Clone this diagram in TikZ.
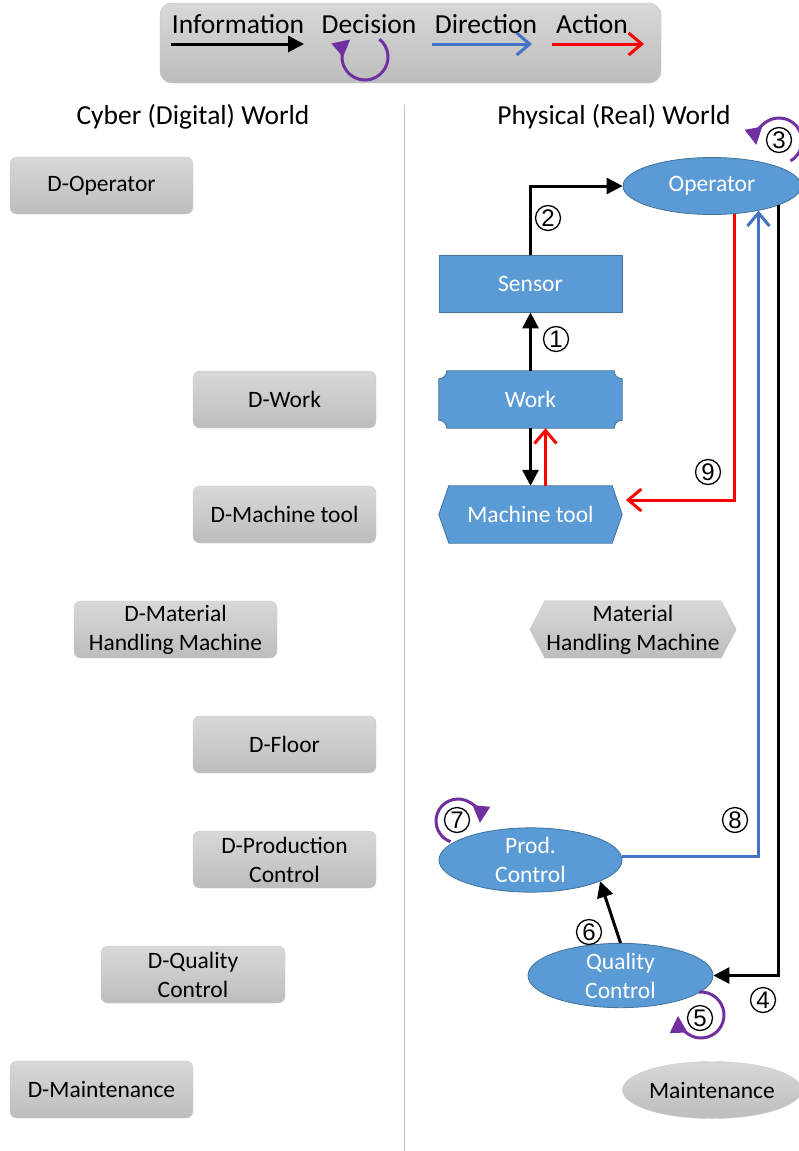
\documentclass[tikz,border=0pt]{standalone}
\usepackage{fontspec}
\setmainfont{Carlito}
\newfontfamily\digfont{Liberation Sans}
\usetikzlibrary{arrows.meta,shapes.geometric,calc}
\definecolor{nblue}{HTML}{5B9BD5}
\definecolor{nborder}{HTML}{41719C}
\definecolor{dblue}{HTML}{4472C4}
\definecolor{purp}{HTML}{7030A0}
\definecolor{gtop}{HTML}{D8D8D8}
\definecolor{gbot}{HTML}{BDBDBD}
\definecolor{gborder}{HTML}{C8C8C8}
\definecolor{divider}{HTML}{BFBFBF}
\pgfdeclarelayer{background}
\pgfsetlayers{background,main}
\begin{document}
\begin{tikzpicture}[x=1pt,y=1pt,
  txt/.style={font=\fontsize{23.5}{29}\selectfont},
  big/.style={font=\fontsize{27.5}{30}\selectfont},
  dbox/.style={txt, rectangle, rounded corners=7pt, top color=gtop, bottom color=gbot, draw=gborder, minimum width=183pt, minimum height=57pt, align=center, inner sep=0pt, text=black},
  bshape/.style={txt, fill=nblue, draw=nborder, text=white, align=center, inner sep=0pt, line width=0.8pt},
  bell/.style={bshape, ellipse, minimum width=#1, minimum height=57pt},
  plain/.style={txt, rectangle, minimum width=#1, minimum height=57pt, inner sep=0pt, align=center},
  info/.style={line width=3pt, black, -{Triangle[length=16pt,width=16pt]}},
  dirc/.style={line width=3pt, dblue, -{Straight Barb[length=13pt,width=22pt]}},
  act/.style={line width=3pt, red, -{Straight Barb[length=13pt,width=22pt]}},
  deci/.style={line width=3pt, purp, -{Triangle[length=17pt,width=17pt]}},
  num/.style={circle, draw=black, line width=1.3pt, minimum size=25pt, inner sep=0pt, font=\digfont\fontsize{24}{24}\selectfont},
]
\useasboundingbox (0,0) rectangle (799,-1151);

% legend
\node[rectangle, rounded corners=12pt, top color=gtop, bottom color=gbot, draw=divider, minimum width=501pt, minimum height=80pt] (legend) at (410.5,-43) {};
\node[big, anchor=base] (tinfo) at (238,-33) {Information};
\node[big, anchor=base] (tdec) at (369,-33) {Decision};
\node[big, anchor=base] (tdir) at (486,-33) {Direction};
\node[big, anchor=base] (tact) at (592,-33) {Action};
\coordinate (i1) at (171,-44); \coordinate (i2) at (304,-44);
\coordinate (d1) at (432,-44); \coordinate (d2) at (532,-44);
\coordinate (a1) at (552,-44); \coordinate (a2) at (644,-44);
\draw[info] (i1) -- (i2);
\draw[dirc] (d1) -- (d2);
\draw[act] (a1) -- (a2);
\coordinate (lc) at (365,-57);
\draw[deci] ($(lc)+(51:23)$) arc[start angle=51, end angle=-230, radius=23];

% divider and titles
\coordinate (dv1) at (404,-105); \coordinate (dv2) at (404,-1151);
\draw[divider, line width=1pt] (dv1) -- (dv2);
\node[big] (cyber) at (193,-117) {Cyber (Digital) World};
\node[big] (phys) at (614,-117) {Physical (Real) World};

% digital twins
\node[dbox] (dop) at (101.5,-185.5) {D-Operator};
\node[dbox] (dwork) at (284.5,-399.5) {D-Work};
\node[dbox] (dmt) at (284.5,-514.5) {D-Machine tool};
\node[dbox, minimum width=203pt] (dmhm) at (175.5,-629.5) {D-Material\\Handling Machine};
\node[dbox] (dfloor) at (284.5,-744.5) {D-Floor};
\node[dbox] (dpc) at (284.5,-859.5) {D-Production\\Control};
\node[dbox, minimum width=184pt] (dqc) at (193,-974.5) {D-Quality\\Control};
\node[dbox] (dmain) at (101.5,-1089.5) {D-Maintenance};

% physical
\node[bell=178pt] (op) at (712,-186) {Operator};
\node[bshape, rectangle, minimum width=183pt, minimum height=57pt] (sensor) at (530.5,-283.5) {Sensor};
\node[plain=183pt, text=white] (work) at (530.5,-399.5) {Work};
\node[plain=183pt, text=white] (mt) at (530.5,-514.5) {Machine tool};
\node[plain=206pt, text=black] (mhm) at (633,-629.5) {Material\\Handling Machine};
\node[bell=183pt] (pc) at (530.5,-860) {Prod.\\Control};
\node[bell=185pt] (qc) at (620.5,-975.5) {Quality\\Control};
\node[txt, ellipse, top color=gtop, bottom color=gbot, draw=gborder, minimum width=179pt, minimum height=57pt, inner sep=0pt] (main) at (712,-1090) {Maintenance};

\begin{pgfonlayer}{background}
\filldraw[fill=nblue, draw=nborder, line width=0.8pt]
  ($(work.north west)+(8,0)$) -- ($(work.north east)+(-8,0)$)
  arc[start angle=180, end angle=270, radius=8]
  -- ($(work.south east)+(0,8)$)
  arc[start angle=90, end angle=180, radius=8]
  -- ($(work.south west)+(8,0)$)
  arc[start angle=0, end angle=90, radius=8]
  -- ($(work.north west)+(0,-8)$)
  arc[start angle=-90, end angle=0, radius=8] -- cycle;
\filldraw[fill=nblue, draw=nborder, line width=0.8pt]
  (mt.west) -- ($(mt.north west)+(10,0)$) -- ($(mt.north east)+(-10,0)$)
  -- (mt.east) -- ($(mt.south east)+(-10,0)$) -- ($(mt.south west)+(10,0)$) -- cycle;
\path[top color=gtop, bottom color=gbot, draw=gborder]
  (mhm.west) -- ($(mhm.north west)+(15,0)$) -- ($(mhm.north east)+(-15,0)$)
  -- (mhm.east) -- ($(mhm.south east)+(-15,0)$) -- ($(mhm.south west)+(15,0)$) -- cycle;
\end{pgfonlayer}

% connectors
\draw[info] (sensor.north) |- (op.west);
\draw[info] (work.north) -- (sensor.south);
\draw[info] (work.south) -- (mt.north);
\draw[act] ([xshift=15pt]mt.north) -- ([xshift=15pt]work.south);
\coordinate (mtin) at (626,-500);
\draw[act] (op.-51) |- (mtin);
\draw[dirc] ([yshift=4pt]pc.east) -| (op.-28);
\draw[info] (op.-16) |- (qc.east);
\draw[info] (qc.north) -- (pc.-17);

% decision loops
\coordinate (c3) at (779,-141);
\draw[deci] ($(c3)+(-60:23)$) arc[start angle=-60, end angle=190, radius=23];
\coordinate (c7) at (458,-821);
\draw[deci] ($(c7)+(250:22)$) arc[start angle=250, end angle=-5, radius=22];
\coordinate (c5) at (701,-1015);
\draw[deci] ($(c5)+(95:23)$) arc[start angle=95, end angle=-178, radius=23];

% numbers
\node[num] (n1) at (556,-339) {1};
\node[num] (n2) at (548,-218) {2};
\node[num] (n3) at (779,-140) {3};
\node[num] (n4) at (763,-1000) {4};
\node[num] (n5) at (700,-1018) {5};
\node[num] (n6) at (589,-932) {6};
\node[num] (n7) at (457,-820) {7};
\node[num] (n8) at (735,-820) {8};
\node[num] (n9) at (708,-472) {9};
\end{tikzpicture}
\end{document}
